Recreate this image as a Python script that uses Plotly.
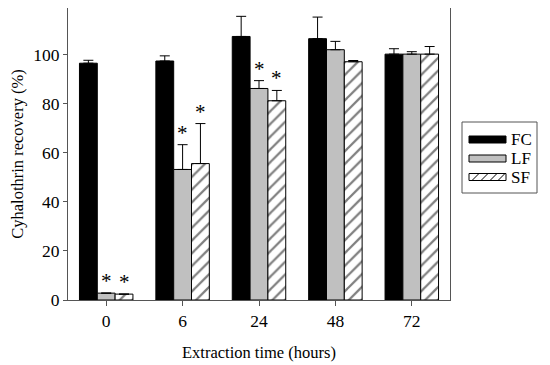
import plotly.graph_objects as go

# ---- data ----
hours = ["0", "6", "24", "48", "72"]
fc_values = [96.5, 97.4, 107.4, 106.5, 100.2]
fc_errors = [1.2, 2.1, 8.2, 8.8, 2.2]
lf_values = [2.8, 53.2, 86.2, 102.0, 100.2]
lf_errors = [0.0, 10.1, 3.2, 3.4, 1.0]
sf_values = [2.4, 55.6, 81.2, 97.1, 100.2]
sf_errors = [0.0, 16.3, 4.2, 0.5, 3.1]
lf_significant = [True, True, True, False, False]
sf_significant = [True, True, True, False, False]
series_names = ["FC", "LF", "SF"]

# page has an 8px body margin; figure coordinates are page coordinates minus 8
OFF = 8
W, H = 550 - OFF, 365 - OFF
L, T = 68 - OFF, 8 - OFF
PW, PH = 382, 292
R, B = W - L - PW, H - T - PH
FONT = "Times New Roman, Liberation Serif, serif"
AX = "#555555"
GRAY = "#c0c0c0"
BARGAP = 0.30

x = list(range(len(hours)))

fig = go.Figure()
common_err = dict(type="data", symmetric=False, color="black", thickness=1, width=5)
fig.add_trace(go.Bar(x=x, y=fc_values, name="FC",
                     marker=dict(color="black", line=dict(color="black", width=1)),
                     error_y=dict(array=fc_errors, arrayminus=[0] * len(x), **common_err)))
fig.add_trace(go.Bar(x=x, y=lf_values, name="LF",
                     marker=dict(color=GRAY, line=dict(color="black", width=1)),
                     error_y=dict(array=lf_errors, arrayminus=[0] * len(x), **common_err)))
fig.add_trace(go.Bar(x=x, y=sf_values, name="SF",
                     marker=dict(color="white", line=dict(color="black", width=1),
                                 pattern=dict(shape="/", fgcolor="black", bgcolor="white",
                                              size=9, solidity=0.25)),
                     error_y=dict(array=sf_errors, arrayminus=[0] * len(x), **common_err)))

# significance stars
bw = (1 - BARGAP) / 3
annotations = []
for i in x:
    if lf_significant[i]:
        annotations.append(dict(x=i, y=lf_values[i] + lf_errors[i] + 5.7, text="*",
                                showarrow=False, yanchor="middle", yshift=-2,
                                font=dict(family=FONT, size=21, color="black")))
    if sf_significant[i]:
        annotations.append(dict(x=i + bw, y=sf_values[i] + sf_errors[i] + 5.7, text="*",
                                showarrow=False, yanchor="middle", yshift=-2,
                                font=dict(family=FONT, size=21, color="black")))

# custom legend (page pixel -> paper)
def px(xp):
    return (xp - (L + OFF)) / PW

def py(yp):
    return (T + OFF + PH - yp) / PH

shapes = [dict(type="rect", xref="paper", yref="paper", x0=px(462), x1=px(537),
               y0=py(193), y1=py(122), line=dict(color=AX, width=1), fillcolor="white")]
swatch_y = [(136, 143), (155, 162), (173.5, 180.5)]
fills = ["black", GRAY, "white"]
for (ya, yb), fc in zip(swatch_y, fills):
    shapes.append(dict(type="rect", xref="paper", yref="paper", x0=px(469), x1=px(506),
                       y0=py(yb), y1=py(ya), line=dict(color="black", width=1), fillcolor=fc))
ya, yb = swatch_y[2]
for x0 in [472, 481, 490, 498]:
    shapes.append(dict(type="line", xref="paper", yref="paper", x0=px(x0), x1=px(x0 + 7),
                       y0=py(yb), y1=py(ya), line=dict(color="black", width=1)))
for name, (ya, yb) in zip(series_names, swatch_y):
    annotations.append(dict(xref="paper", yref="paper", x=px(510), y=py((ya + yb) / 2),
                            text=name, showarrow=False, xanchor="left", yanchor="middle",
                            borderpad=0,
                            font=dict(family=FONT, size=17, color="black")))

fig.update_layout(
    width=W, height=H,
    margin=dict(l=L, r=R, t=T, b=B, pad=0, autoexpand=False),
    paper_bgcolor="white", plot_bgcolor="white",
    barmode="group", bargap=BARGAP, bargroupgap=0,
    showlegend=False,
    font=dict(family=FONT, size=16, color="black"),
    annotations=annotations,
    shapes=shapes,
)
fig.update_xaxes(range=[-0.5, 4.5], tickvals=x, ticktext=hours, automargin=False,
                 showline=True, linecolor=AX, linewidth=1, mirror=True,
                 ticks="outside", ticklen=5, tickcolor=AX, showgrid=False, zeroline=False,
                 tickfont=dict(family=FONT, size=17.5, color="black"),
                 title=dict(text="Extraction time (hours)", standoff=16,
                            font=dict(family=FONT, size=16.5, color="black")))
fig.update_yaxes(range=[0, 119], tickvals=[0, 20, 40, 60, 80, 100], automargin=False,
                 showline=True, linecolor=AX, linewidth=1, mirror=True,
                 ticks="outside", ticklen=4, tickcolor=AX, showgrid=False, zeroline=False,
                 tickfont=dict(family=FONT, size=17.5, color="black"),
                 title=dict(text="Cyhalothrin recovery (%)", standoff=12,
                            font=dict(family=FONT, size=16.5, color="black")))

fig.write_html("out.html")
